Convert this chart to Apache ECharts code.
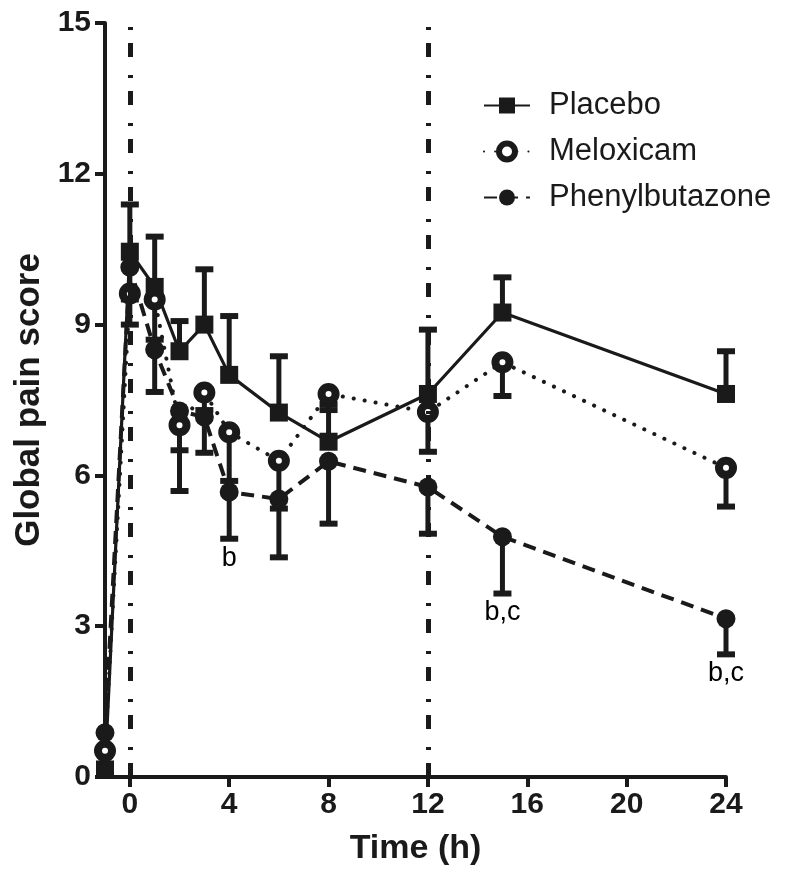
<!DOCTYPE html>
<html>
<head>
<meta charset="utf-8">
<script src="https://cdn.jsdelivr.net/npm/echarts@6/dist/echarts.min.js"></script>
<style>
html,body{margin:0;padding:0;background:#fff;}
#chart{width:793px;height:885px;}
</style>
</head>
<body>
<div id="chart"></div>
<script>
// ---- data ----
const times = [-1, 0, 1, 2, 3, 4, 6, 8, 12, 15, 24];
const placebo = [0.15, 10.45, 9.75, 8.47, 9.0, 8.0, 7.25, 6.67, 7.62, 9.24, 7.62];
const placeboUpper = [null, 11.39, 10.75, 9.07, 10.1, 9.17, 8.37, 7.42, 8.9, 9.94, 8.47];
const meloxicam = [0.52, 9.62, 9.5, 7.0, 7.65, 6.86, 6.29, 7.62, 7.26, 8.25, 6.15];
const meloxicamLower = [null, 9.0, 8.7, 5.69, 7.3, 5.89, 5.34, 7.3, 6.47, 7.58, 5.38];
const phenyl = [0.88, 10.14, 8.5, 7.28, 7.16, 5.67, 5.53, 6.28, 5.77, 4.78, 3.15];
const phenylLower = [null, 9.5, 7.66, 6.5, 6.45, 4.74, 4.37, 5.04, 4.84, 3.65, 2.44];
const annotTimes = [4, 15, 24];
const annotTexts = ['b', 'b,c', 'b,c'];
const vlineTimes = [0, 12];
const xTicks = [0, 4, 8, 12, 16, 20, 24];
const seriesNames = ['Placebo', 'Meloxicam', 'Phenylbutazone'];

const INK = '#1a1a1a';
const FONT = "'Liberation Sans', Arial, Helvetica, sans-serif";

function pairs(ys) { return times.map((t, i) => [t, ys[i]]); }
function errPairs(ys, ends) {
  const out = [];
  times.forEach((t, i) => { if (ends[i] != null) out.push([t, ys[i], ends[i]]); });
  return out;
}
function renderErr(params, api) {
  const x = api.value(0), y0 = api.value(1), y1 = api.value(2);
  const p0 = api.coord([x, y0]), p1 = api.coord([x, y1]);
  return {
    type: 'group',
    children: [
      { type: 'line', shape: { x1: p0[0], y1: p0[1], x2: p1[0], y2: p1[1] },
        style: { stroke: INK, lineWidth: 5 } },
      { type: 'rect', shape: { x: p1[0] - 9, y: p1[1] - 3, width: 18, height: 6 },
        style: { fill: INK } }
    ]
  };
}
function errSeries(ys, ends, z) {
  return {
    type: 'custom', renderItem: renderErr, data: errPairs(ys, ends),
    encode: { x: 0, y: [1, 2] }, z: z, silent: true
  };
}

const annotData = annotTimes.map((t, k) => {
  const i = times.indexOf(t);
  return { value: [t, phenylLower[i]], name: annotTexts[k] };
});

const chart = echarts.init(document.getElementById('chart'), null, { renderer: 'canvas' });
chart.setOption({
  animation: false,
  backgroundColor: '#fff',
  textStyle: { fontFamily: FONT, color: INK },
  grid: { left: 105, right: 67, top: 23, bottom: 108, containLabel: false },
  legend: {
    data: [
      { name: 'Placebo' },
      { name: 'Meloxicam', itemStyle: { color: '#fff', borderColor: INK, borderWidth: 6 } },
      { name: 'Phenylbutazone' }
    ],
    orient: 'vertical',
    left: 478, top: 85,
    itemWidth: 46, itemHeight: 20, itemGap: 15,
    textStyle: { fontSize: 31, color: INK, fontFamily: FONT, padding: [0, 0, 0, 14] },
    selectedMode: false
  },
  xAxis: {
    type: 'value', min: -1, max: 24,
    name: 'Time (h)', nameLocation: 'middle', nameGap: 55,
    nameTextStyle: { fontSize: 34, fontWeight: 'bold', color: INK, fontFamily: FONT },
    axisLine: { show: true, onZero: false, lineStyle: { color: INK, width: 4 } },
    axisTick: { show: true, length: 10, lineStyle: { color: INK, width: 4 }, customValues: xTicks },
    axisLabel: { fontSize: 30, fontWeight: 'bold', color: INK, margin: 13, customValues: xTicks },
    splitLine: { show: false }
  },
  yAxis: {
    type: 'value', min: 0, max: 15, interval: 3,
    name: 'Global pain score', nameLocation: 'middle', nameGap: 58,
    nameTextStyle: { fontSize: 35, fontWeight: 'bold', color: INK, fontFamily: FONT },
    axisLine: { show: true, onZero: false, lineStyle: { color: INK, width: 4 } },
    axisTick: { show: true, length: 10, lineStyle: { color: INK, width: 4 } },
    axisLabel: { fontSize: 30, fontWeight: 'bold', color: INK, margin: 14 },
    splitLine: { show: false }
  },
  series: [
    {
      type: 'line', name: 'vlines', data: [], silent: true, z: 1,
      markLine: {
        silent: true, symbol: ['none', 'none'],
        label: { show: false },
        lineStyle: { color: INK, width: 5, type: [14, 13, 3, 18], cap: 'butt', opacity: 1 },
        data: vlineTimes.map(t => ({ xAxis: t }))
      }
    },
    errSeries(placebo, placeboUpper, 2),
    errSeries(meloxicam, meloxicamLower, 2),
    errSeries(phenyl, phenylLower, 2),
    {
      type: 'line', name: 'Placebo', data: pairs(placebo), z: 3,
      symbol: 'rect', symbolSize: 18,
      lineStyle: { color: INK, width: 3.2, type: 'solid' },
      itemStyle: { color: INK }
    },
    {
      type: 'line', name: 'Meloxicam', data: pairs(meloxicam), z: 4,
      symbol: 'circle', symbolSize: 14,
      lineStyle: { color: INK, width: 4, type: [0.1, 11], cap: 'round' },
      itemStyle: { color: '#fff', borderColor: INK, borderWidth: 8 }
    },
    {
      type: 'line', name: 'Phenylbutazone', data: pairs(phenyl), z: 5,
      symbol: 'circle', symbolSize: 19,
      lineStyle: { color: INK, width: 4, type: [13, 8] },
      itemStyle: { color: INK }
    },
    {
      type: 'scatter', name: 'annot', data: annotData, symbolSize: 0, silent: true, z: 6,
      itemStyle: { color: '#000', opacity: 1 },
      label: {
        show: true, position: 'bottom', distance: 6,
        formatter: p => p.name, fontSize: 27, color: '#000', fontFamily: FONT
      }
    }
  ]
});
</script>
</body>
</html>
